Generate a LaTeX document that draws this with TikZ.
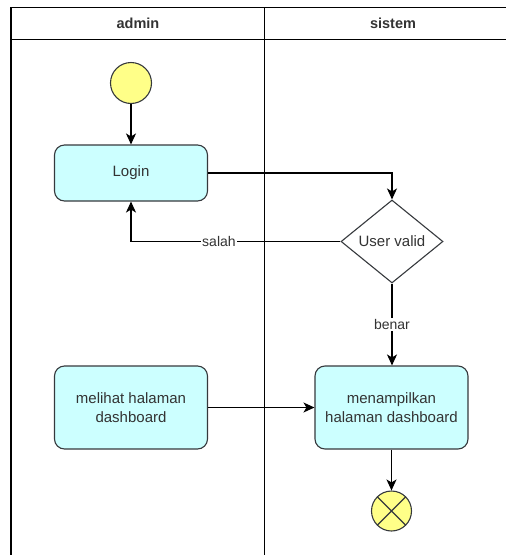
\documentclass[tikz,border=0pt]{standalone}
\usepackage{fontspec}
\setmainfont{Liberation Sans}
\usetikzlibrary{arrows.meta,shapes.geometric}
\definecolor{actfill}{HTML}{CCFFFF}
\definecolor{dotfill}{HTML}{FFFF88}
\definecolor{edge}{HTML}{36393D}
\definecolor{ink}{HTML}{333333}
\begin{document}
\begin{tikzpicture}[x=1pt,y=-1pt,
  lane/.style={draw=black, line width=1.4pt},
  lanetitle/.style={font=\bfseries\fontsize{14.5}{16}\selectfont, text=ink},
  action/.style={draw=edge, line width=1.1pt, fill=actfill, rounded corners=10pt,
    minimum width=153pt, align=center, inner sep=0pt, text=ink,
    font=\fontsize{15}{18.5}\selectfont},
  decision/.style={diamond, draw=edge, line width=1.1pt, fill=white, inner sep=0pt,
    minimum width=102pt, minimum height=83pt, text=ink,
    font=\fontsize{15}{18}\selectfont},
  startdot/.style={circle, draw=edge, line width=1.1pt, fill=dotfill, minimum size=41pt, inner sep=0pt},
  enddot/.style={circle, draw=edge, line width=1.1pt, fill=dotfill, minimum size=40pt, inner sep=0pt,
    path picture={
      \draw[edge, line width=1.1pt]
        (path picture bounding box.north west) -- (path picture bounding box.south east)
        (path picture bounding box.north east) -- (path picture bounding box.south west);}},
  flow/.style={draw=black, line width=1.2pt, -{Stealth[length=11pt,width=10pt,inset=3pt]}},
  guard/.style={fill=white, inner sep=1pt, text=ink, font=\fontsize{14}{16}\selectfont}
]
\useasboundingbox (0,0) rectangle (506,555);

% swimlane frame
\draw[lane] (522,7.5) -- (11,7.5) -- (11,560);
\draw[lane] (11,39.5) -- (522,39.5);
\draw[lane] (264.5,7.5) -- (264.5,560);
\node[lanetitle] (laneA) at (138,23.5) {admin};
\node[lanetitle] (laneB) at (393,23.5) {sistem};

% activities
\node[startdot] (start) at (131,83) {};
\node[action, minimum height=56pt] (login) at (131,173) {Login};
\node[decision] (valid) at (392,241.5) {User valid};
\node[action, minimum height=83pt] (melihat) at (131,407.5) {melihat halaman\\dashboard};
\node[action, minimum height=83pt] (tampil) at (391.5,407.5) {menampilkan\\halaman dashboard};
\node[enddot] (finish) at (391.5,511) {};

% transitions
\draw[flow] (start) -- (login);
\draw[flow] (login.east) -| (valid.north);
\draw[flow] (valid.west) -| node[guard, pos=0.29] {salah} (login.south);
\draw[flow] (valid.south) -- node[guard, pos=0.5] {benar} (valid.south |- tampil.north);
\draw[flow] (melihat.east) -- (tampil.west |- melihat.east);
\draw[flow] (tampil) -- (finish);
\end{tikzpicture}
\end{document}
